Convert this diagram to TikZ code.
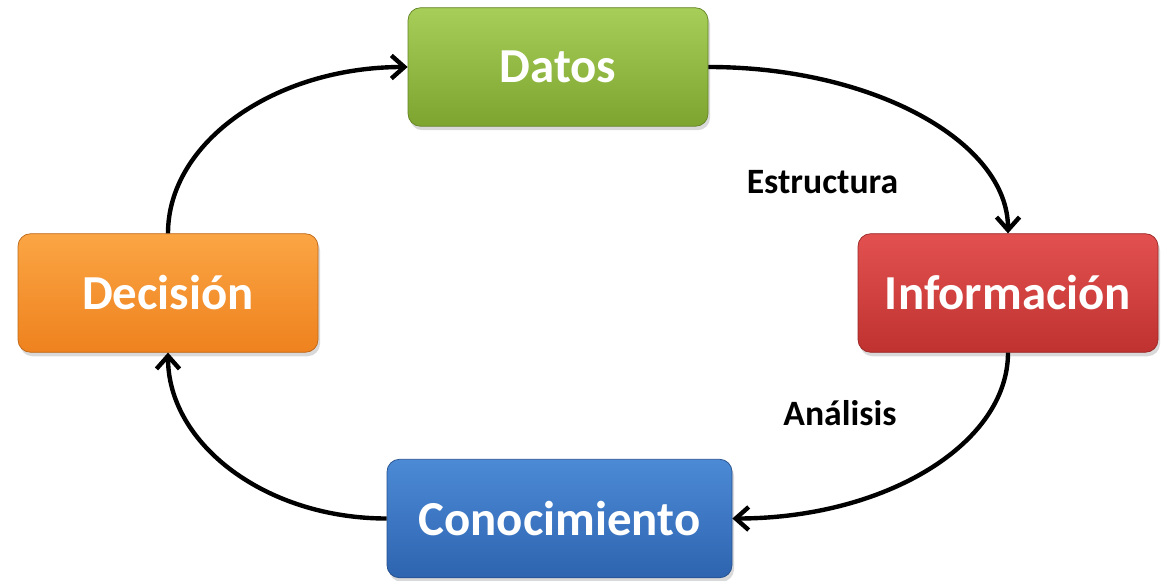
\documentclass[tikz,border=0pt]{standalone}
\usepackage{fontspec}
\setmainfont{Carlito}
\usetikzlibrary{arrows.meta,shadows}

\definecolor{verdeA}{HTML}{A6CE58}
\definecolor{verdeB}{HTML}{7DA42E}
\definecolor{rojoA}{HTML}{E2514F}
\definecolor{rojoB}{HTML}{BF3230}
\definecolor{azulA}{HTML}{4C8AD6}
\definecolor{azulB}{HTML}{2E64B0}
\definecolor{naranjaA}{HTML}{FBA544}
\definecolor{naranjaB}{HTML}{EE821E}

\begin{document}
\begin{tikzpicture}[
    caja/.style={rounded corners=.25cm, minimum width=6cm, minimum height=2.37cm,
        text=white, font=\bfseries\fontsize{27.8}{30}\selectfont,
        drop shadow={opacity=.3, shadow xshift=.04cm, shadow yshift=-.08cm}},
    flecha/.style={line width=2.5pt, -{Straight Barb[length=.26cm, width=.46cm]}},
    etiqueta/.style={font=\bfseries\fontsize{20.3}{22}\selectfont}
]
    \def\W{23.22} \def\H{11.6}
    \def\dy{1.83}
    \useasboundingbox (0, 0) rectangle (\W, \H);

    \coordinate (pDatos) at (11.16, 10.26);
    \coordinate (pInfo) at (20.16, 5.74);
    \coordinate (pConoc) at (11.19, 1.23);
    \coordinate (pDecis) at (3.36, 5.74);

    \node[caja, draw=verdeB!80!black, top color=verdeA, bottom color=verdeB] (datos) at (pDatos) {Datos};
    \node[caja, draw=rojoB!80!black, top color=rojoA, bottom color=rojoB] (info) at (pInfo) {Información};
    \node[caja, draw=azulB!80!black, top color=azulA, bottom color=azulB, minimum width=6.9cm] (conoc) at (pConoc) {Conocimiento};
    \node[caja, draw=naranjaB!80!black, top color=naranjaA, bottom color=naranjaB] (decis) at (pDecis) {Decisión};

    \draw[flecha] (datos.east) .. controls +(3.3, 0) and +(0, \dy) .. (info.north);
    \draw[flecha] (info.south) .. controls +(0, -\dy) and +(3.05, 0) .. (conoc.east);
    \draw[flecha] (conoc.west) .. controls +(-2.42, 0) and +(0, -\dy) .. (decis.south);
    \draw[flecha] (decis.north) .. controls +(0, \dy) and +(-2.65, 0) .. (datos.west);

    \node[etiqueta] (estruc) at (16.45, 7.96) {Estructura};
    \node[etiqueta] (analisis) at (16.8, 3.34) {Análisis};
\end{tikzpicture}
\end{document}
